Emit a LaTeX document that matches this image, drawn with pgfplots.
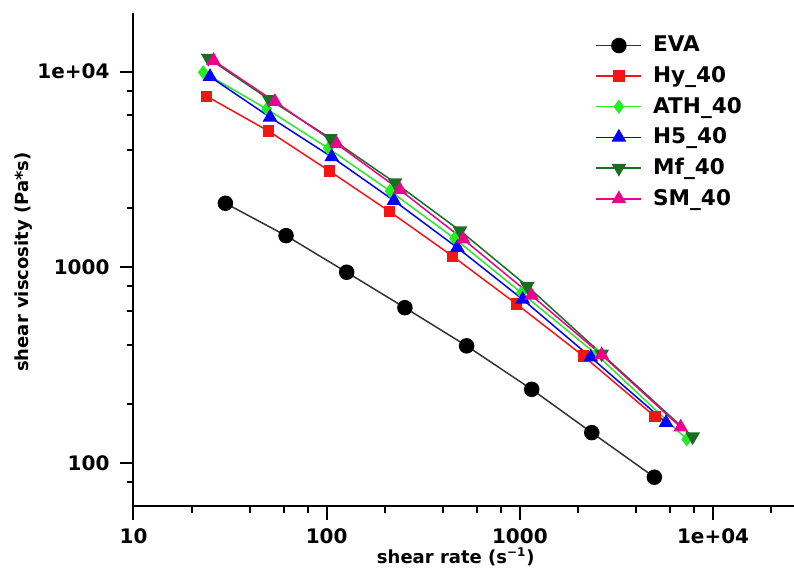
\documentclass[border=0pt]{standalone}
\usepackage{fontspec}
\setmainfont{DejaVu Sans}
\usepackage{pgfplots}
\pgfplotsset{compat=1.18}
\definecolor{athgreen}{RGB}{40,235,40}
\definecolor{mfgreen}{RGB}{25,110,35}
\definecolor{hyred}{RGB}{245,20,20}
\begin{document}
\begin{tikzpicture}
\begin{axis}[
 scale only axis, width=330.25pt, height=246.5pt,
 xmode=log, ymode=log,
 xmin=10, xmax=26230, ymin=60.3, ymax=19950,
 axis x line*=bottom, axis y line*=left,
 axis line style={line width=1pt, -},
 xtick={10,100,1000,10000}, xticklabels={10,100,1000,1e+04},
 ytick={100,1000,10000}, yticklabels={100,1000,1e+04},
 minor xtick={20,40,60,80,200,400,600,800,2000,4000,6000,8000,20000},
 minor ytick={80,200,400,600,800,2000,4000,6000,8000},
 tick align=outside,
 major tick length=7pt, minor tick length=3.5pt,
 every tick/.style={black, line width=1pt},
 tick label style={font=\fontsize{10}{12}\selectfont\bfseries},
 xticklabel style={yshift=-1pt},
 yticklabel style={xshift=-1.5pt},
 /pgf/number format/assume math mode=true,
 xlabel={shear rate (s\textsuperscript{−1})},
 ylabel={shear viscosity (Pa*s)},
 label style={font=\fontsize{9}{11}\selectfont\bfseries},
 xlabel style={at={(axis description cs:0.488,-0.1034)}, anchor=center},
 ylabel style={at={(axis description cs:-0.166,0.495)}, anchor=center},
 legend style={draw=none, fill=none, at={(rel axis cs:0.69,0.97)}, anchor=north west,
   row sep=1.8pt, font=\fontsize{10.8}{12.5}\selectfont\bfseries, cells={anchor=west}},
 legend image code/.code={\draw[mark repeat=2,mark phase=2,#1] plot coordinates {(0pt,0pt) (11.25pt,0pt) (22.5pt,0pt)}; \path (26pt,0pt);},
 every axis plot/.append style={line width=0.75pt},
]
\addplot[black!80, mark=*, mark size=3.5pt, mark options={fill=black, draw=black}] coordinates {
(29.9,2126) (61.6,1452) (126.9,944) (254,622) (530,397) (1151,238) (2355,143) (4966,84.6)};
\addlegendentry{EVA}
\addplot[hyred, mark=square*, mark size=2.5pt] coordinates {
(23.93,7487) (49.9,4977) (103.3,3109) (212,1926) (449,1139) (962,648.6) (2129,352.6) (5002,172.6)};
\addlegendentry{Hy\_40}
\addplot[athgreen, mark=diamond*, mark size=3pt] coordinates {
(22.97,9931) (48.9,6447) (101.9,4061) (212.6,2457) (458.6,1405) (1019,740) (2477,361) (7302,132.3)};
\addlegendentry{ATH\_40}
\addplot[blue, mark=triangle*, mark size=3.5pt] coordinates {
(24.89,9430) (50.9,5848) (106.2,3665) (223.0,2192) (474.2,1260) (1034,685.5) (2326,347.2) (5705,160.8)};
\addlegendentry{H5\_40}
\addplot[mfgreen, mark=triangle*, mark size=3.5pt, mark options={rotate=180}] coordinates {
(24.39,11710) (50.27,7228) (104.6,4567) (225.7,2709) (489.7,1540) (1092,800.8) (2651,361) (7842,136.4)};
\addlegendentry{Mf\_40}
\addplot[magenta, mark=triangle*, mark size=3.5pt] coordinates {
(25.97,11380) (54.0,7025) (112.7,4272) (239.6,2486) (509.3,1392) (1148,718.6) (2651,356.8) (6797,152.4)};
\addlegendentry{SM\_40}
\end{axis}
\pgfresetboundingbox
\useasboundingbox (-66.75pt,-32pt) rectangle (330.25pt,253pt);
\end{tikzpicture}
\end{document}
